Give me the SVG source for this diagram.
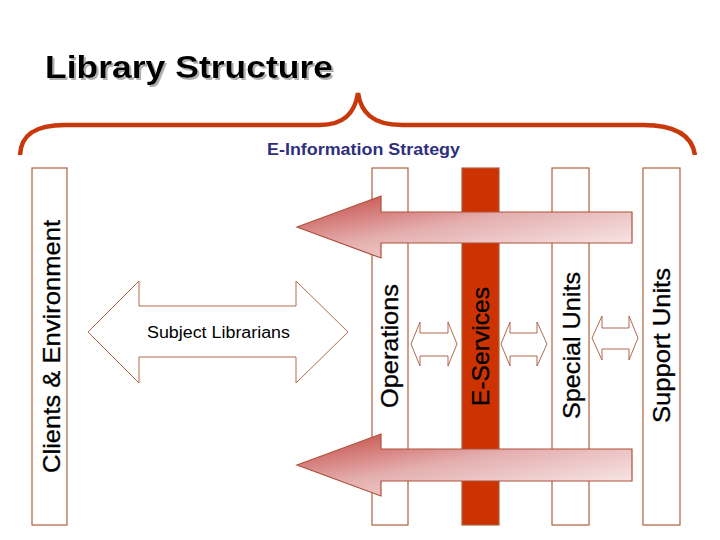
<svg xmlns="http://www.w3.org/2000/svg" width="720" height="540" viewBox="0 0 720 540">
<style>
.col{fill:#ffffff;stroke:#b0603c;stroke-width:1.2}
.colfill{fill:#cc3300;stroke:#b0603c;stroke-width:1.2}
.vt{font-family:"Liberation Sans",Arial,sans-serif;font-size:24px;fill:#000000;stroke:#000000;stroke-width:0.3}
.big{fill:url(#redgrad);stroke:#b0503a;stroke-width:1.2}
.dbl{fill:#ffffff;stroke:#a8583a;stroke-width:0.9}
</style>
<defs>
<linearGradient id="redgrad" x1="0" y1="0" x2="1" y2="1">
<stop offset="0" stop-color="#c2443e"/>
<stop offset="0.45" stop-color="#e4aeae"/>
<stop offset="1" stop-color="#fcf3f3"/>
</linearGradient>
<filter id="shadow" x="-5%" y="-20%" width="110%" height="150%">
<feOffset in="SourceAlpha" dx="2" dy="2" result="off"/>
<feFlood flood-color="#b0b0b0"/>
<feComposite in2="off" operator="in" result="sh"/>
<feMerge><feMergeNode in="sh"/><feMergeNode in="SourceGraphic"/></feMerge>
</filter>
</defs>
<rect width="720" height="540" fill="#ffffff"/>
<g id="title">
<text x="45" y="78" font-family="'Liberation Sans',Arial,sans-serif" font-size="32" font-weight="bold" fill="#000000" textLength="288" lengthAdjust="spacingAndGlyphs" filter="url(#shadow)">Library Structure</text>
</g>
<g id="brace">
<path d="M20,155 C21,134 36,125 65,125 L320,125 C345,125 355,112 358,93 C361,112 372,125 402,125 L643,125 C675,125 692,135 695,155" fill="none" stroke="#c8380a" stroke-width="4.5"/>
<text x="267" y="155" font-family="'Liberation Sans',Arial,sans-serif" font-size="17" font-weight="bold" fill="#2f2f7f" textLength="193" lengthAdjust="spacingAndGlyphs">E-Information Strategy</text>
</g>
<g id="clients">
<rect class="col" x="32" y="168" width="35" height="357"/>
<text class="vt" transform="translate(59.5,473) rotate(-90)" textLength="253" lengthAdjust="spacingAndGlyphs">Clients &amp; Environment</text>
</g>
<g id="operations">
<rect class="col" x="372" y="168" width="36" height="357"/>
<text class="vt" transform="translate(398,408) rotate(-90)" textLength="124" lengthAdjust="spacingAndGlyphs">Operations</text>
</g>
<g id="eservices">
<rect class="colfill" x="462" y="168" width="37" height="357"/>
<text class="vt" transform="translate(488.5,406) rotate(-90)" textLength="119" lengthAdjust="spacingAndGlyphs">E-Services</text>
</g>
<g id="special">
<rect class="col" x="552" y="168" width="37" height="357"/>
<text class="vt" transform="translate(580,419) rotate(-90)" textLength="147" lengthAdjust="spacingAndGlyphs">Special Units</text>
</g>
<g id="support">
<rect class="col" x="643" y="168" width="37" height="357"/>
<text class="vt" transform="translate(670,423) rotate(-90)" textLength="155" lengthAdjust="spacingAndGlyphs">Support Units</text>
</g>
<g id="subject-librarians">
<path class="dbl" d="M88,332 L139,281 L139,306 L296,306 L296,281 L348,332 L296,383 L296,357 L139,357 L139,383 Z"/>
<text x="147" y="338" font-family="'Liberation Sans',Arial,sans-serif" font-size="16" fill="#000000" textLength="143" lengthAdjust="spacingAndGlyphs">Subject Librarians</text>
</g>
<g id="connectors">
<path class="big" d="M297,227 L381,196 L381,212 L632,212 L632,243 L381,243 L381,258 Z"/>
<path class="big" d="M297,465 L381,434 L381,449 L632,449 L632,481 L381,481 L381,496 Z"/>
<path class="dbl" d="M411,344 L420,322 L420,333 L448,333 L448,322 L457,344 L448,366 L448,356 L420,356 L420,366 Z"/>
<path class="dbl" d="M501,344 L510,322 L510,333 L537,333 L537,322 L547,344 L537,366 L537,356 L510,356 L510,366 Z"/>
<path class="dbl" d="M592,338 L602,316 L602,328 L629,328 L629,316 L638,338 L629,360 L629,349 L602,349 L602,360 Z"/>
</g>
</svg>
